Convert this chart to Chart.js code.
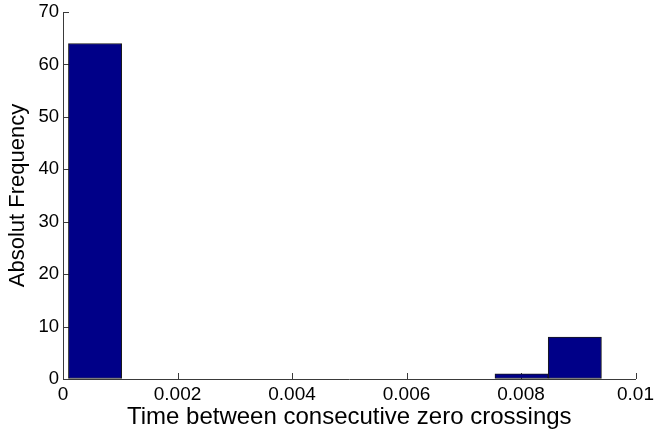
<!DOCTYPE html>
<html>
<head>
<meta charset="utf-8">
<script src="https://cdn.jsdelivr.net/npm/chart.js@4"></script>
<style>
  html, body { margin: 0; padding: 0; background: #fff; }
  #wrap { width: 658px; height: 434px; }
</style>
</head>
<body>
<div id="wrap"><canvas id="hist"></canvas></div>
<script>
// histogram bins (centres) and counts
const binCenters = [0.00056, 0.00149, 0.00242, 0.00335, 0.00429, 0.00522, 0.00615, 0.00708, 0.00801, 0.00894];
const counts = [64, 0, 0, 0, 0, 0, 0, 0, 1, 8];
const xTickLabels = ['0', '0.002', '0.004', '0.006', '0.008', '0.01'];
const yTickLabels = ['0', '10', '20', '30', '40', '50', '60', '70'];

const AXIS = '#3a3a3a';
const FONT = '"Liberation Sans", Arial, Helvetica, sans-serif';

// small inward tick marks, drawn under the bars
const inwardTicks = {
    id: 'inwardTicks',
    beforeDatasetsDraw(chart) {
        const ctx = chart.ctx;
        const xs = chart.scales.x, ys = chart.scales.y;
        const area = chart.chartArea;
        const len = 6;
        ctx.save();
        ctx.strokeStyle = AXIS;
        ctx.lineWidth = 1;
        ctx.beginPath();
        xs.ticks.forEach(t => {
            const px = Math.round(xs.getPixelForValue(t.value)) + 0.5;
            ctx.moveTo(px, area.bottom);
            ctx.lineTo(px, area.bottom - len);
        });
        ys.ticks.forEach(t => {
            const py = Math.round(ys.getPixelForValue(t.value)) + 0.5;
            ctx.moveTo(area.left, py);
            ctx.lineTo(area.left + len, py);
        });
        ctx.stroke();
        ctx.restore();
    }
};

new Chart(document.getElementById('hist'), {
    type: 'bar',
    data: {
        datasets: [{
            data: binCenters.map((x, i) => ({ x: x, y: counts[i] })),
            backgroundColor: '#000088',
            borderColor: '#1a1a1a',
            borderWidth: 1,
            borderSkipped: false,
            barPercentage: 1,
            categoryPercentage: 1
        }]
    },
    options: {
        responsive: true,
        maintainAspectRatio: false,
        animation: false,
        layout: { padding: { top: 12, right: 20, left: 0, bottom: 0 } },
        plugins: { legend: { display: false }, tooltip: { enabled: false } },
        scales: {
            x: {
                type: 'linear',
                offset: false,
                min: 0,
                max: 0.01,
                afterFit(scale) { scale.height = 55; },
                grid: { drawOnChartArea: false, drawTicks: false },
                border: { color: AXIS, width: 1 },
                ticks: {
                    stepSize: 0.002,
                    padding: 4,
                    maxRotation: 0,
                    color: '#000',
                    font: { family: FONT, size: 19 },
                    callback: (v, i) => xTickLabels[i]
                },
                title: {
                    display: true,
                    text: 'Time between consecutive zero crossings',
                    color: '#000',
                    font: { family: FONT, size: 24 },
                    padding: { top: 1, bottom: 2 }
                }
            },
            y: {
                min: 0,
                max: 70,
                afterFit(scale) {
                    scale.width = 63;
                    scale.paddingTop = 0;
                },
                grid: { drawOnChartArea: false, drawTicks: false },
                border: { color: AXIS, width: 1 },
                ticks: {
                    stepSize: 10,
                    padding: 4,
                    color: '#000',
                    font: { family: FONT, size: 18.5 },
                    callback: (v, i) => yTickLabels[i]
                },
                title: {
                    display: true,
                    text: 'Absolut Frequency',
                    color: '#000',
                    font: { family: FONT, size: 22 },
                    padding: { top: 5, bottom: 4 }
                }
            }
        }
    },
    plugins: [inwardTicks]
});
</script>
</body>
</html>
